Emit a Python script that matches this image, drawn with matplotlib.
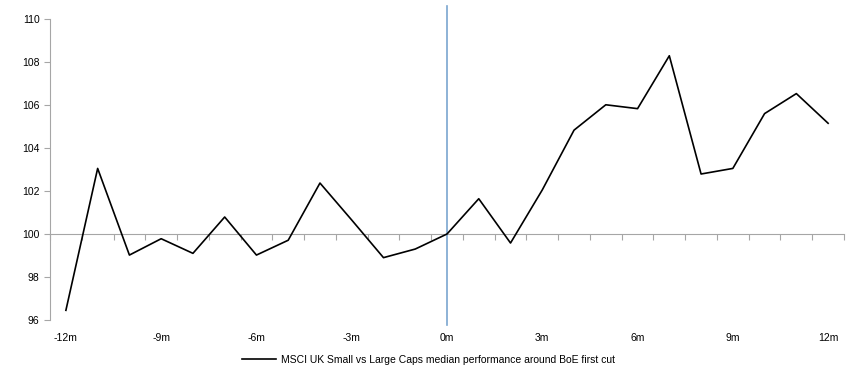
import matplotlib
matplotlib.use("Agg")
import matplotlib.pyplot as plt
import numpy as np

# months around the first BoE cut
months = list(range(-12, 13))
perf = [96.45, 103.05, 99.02, 99.78, 99.10, 100.79, 99.02, 99.71, 102.37, 100.65,
        98.90, 99.30, 100.00, 101.64, 99.58, 102.05, 104.83, 106.01, 105.83, 108.29,
        102.79, 103.05, 105.60, 106.53, 105.15]
label_months = [-12, -9, -6, -3, 0, 3, 6, 9, 12]
label_text = [f"{m}m" for m in label_months]
series_name = "MSCI UK Small vs Large Caps median performance around BoE first cut"

plt.rcParams['font.family'] = ['Liberation Sans Narrow', 'Liberation Sans', 'DejaVu Sans']
plt.rcParams['font.size'] = 7.5

grey = "#a6a6a6"
fig = plt.figure(figsize=(8.52, 3.82), dpi=100)
ax = fig.add_axes([0.0587, 0.1623, 0.9319, 0.788])

ax.plot(months, perf, color="black", lw=1.2, label=series_name, zorder=3)
ax.axvline(0, ymin=-0.017, ymax=1.043, color="#7aa6cf", lw=1.2, clip_on=False, zorder=2)

ax.set_xlim(-12.5, 12.5)
ax.set_ylim(96, 110)
ax.set_yticks(np.arange(96, 111, 2))

for s in ["top", "right", "bottom"]:
    ax.spines[s].set_visible(False)
ax.spines["left"].set_color(grey)
ax.tick_params(axis="y", colors=grey, labelcolor="black", length=4, direction="out")
ax.set_xticks(label_months, label_text)
ax.tick_params(axis="x", length=0, pad=9, labelcolor="black")

# horizontal axis line at 100 with category boundary ticks
sec = ax.secondary_xaxis((100 - 96) / 14)
sec.set_xticks(np.arange(-12.5, 13, 1), [""] * 26)
sec.tick_params(axis="x", colors=grey, length=4, direction="out")
sec.spines["bottom"].set_color(grey)

fig.legend(loc="center", bbox_to_anchor=(0.503, 0.058), frameon=False,
           handlelength=3.2, handletextpad=0.5)

fig.savefig("out.png", dpi=100)
